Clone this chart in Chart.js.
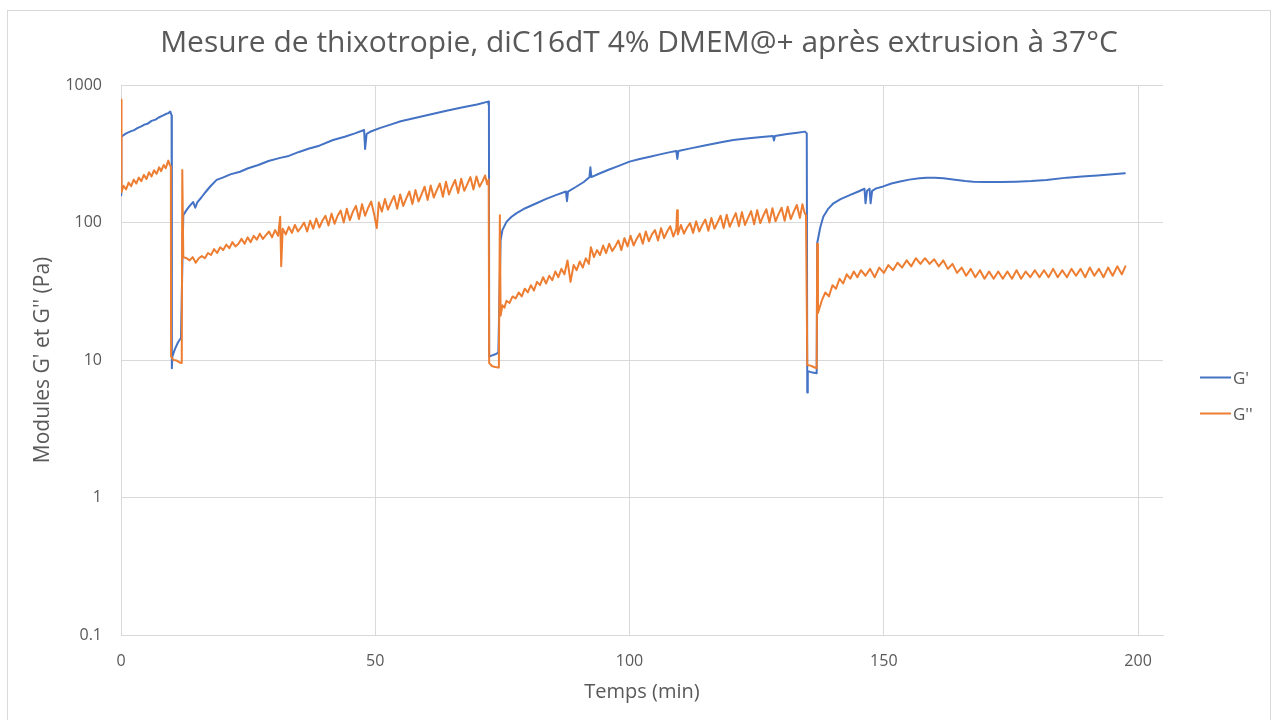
<!DOCTYPE html>
<html><head><meta charset="utf-8">
<script src="https://cdn.jsdelivr.net/npm/chart.js@4.4.1/dist/chart.umd.min.js"></script>
<style>html,body{margin:0;padding:0;background:#fff;}canvas{display:block;}</style>
</head><body>
<canvas id="c" width="1272" height="720"></canvas>
<script>
const chartTitle = "Mesure de thixotropie, diC16dT 4% DMEM@+ après extrusion à 37°C";
const xTitle = "Temps (min)";
const yTitle = "Modules G' et G'' (Pa)";
const seriesNames = ["G'", "G''"];
const xTicks = [0, 50, 100, 150, 200];
const yTicks = [0.1, 1, 10, 100, 1000];

// G' (storage modulus) : time (min) and value (Pa)
const gpT = [0,0.05,1.0,2.0,2.6,3.2,4.0,4.6,5.2,6.0,6.8,7.4,8.2,8.8,9.3,9.7,9.95,10.0,10.1,10.6,11.2,11.8,
12.25,12.8,13.5,14.2,14.6,15.0,15.8,16.6,17.5,18.8,20.0,21.5,23.4,25.0,27.0,29.0,31.3,33.0,35.0,37.0,39.0,41.7,44.0,46.0,47.8,48.0,48.3,49.0,51.0,53.0,55.0,58.0,61.0,64.0,67.0,70.0,72.2,72.35,
72.4,73.0,73.6,74.2,
74.65,75.0,75.8,76.8,77.8,79.5,81.7,83.5,85.5,87.5,87.7,87.9,89.5,91.0,92.1,92.3,92.5,94.2,96.0,97.5,100.0,102.0,104.0,106.0,108.0,109.2,109.4,109.6,112.0,115.0,118.0,120.4,123.0,126.0,128.2,128.4,128.6,131.0,133.0,134.5,134.85,
134.95,135.05,136.0,136.8,
136.9,137.5,138.1,139.0,140.1,141.5,143.3,145.0,146.2,146.4,146.7,147.2,147.4,147.7,148.5,149.9,151.5,153.2,155.0,157.0,158.4,160.0,161.7,164.0,166.0,167.6,170.0,173.0,176.0,179.0,182.0,186.0,189.0,192.0,195.0,197.4];
const gpV = [158,420,445,462,470,485,500,515,522,548,560,580,598,615,625,640,600,8.7,10.6,12.0,13.4,14.5,
113,122,132,141,128,140,152,166,182,204,212,224,234,248,262,280,295,305,326,345,362,398,420,445,471,343,442,457,488,515,545,578,612,650,685,722,757,700,
10.6,10.8,11.0,11.3,
74.6,88,101,110,117,127,138,148,158,168,143,168,182,197,213,252,214,228,243,255,277,290,301,313,325,331,290,331,346,365,383,398,408,418,426,395,426,440,450,458,445,
5.8,8.3,8.1,8.0,
70.6,92,110,125,138,148,158,168,176,138,170,176,138,170,177,183,192,199,205,210,212,212,210,205,200,198,197,197,198,200,204,212,216,220,224,228];

// G'' (loss modulus) : time (min) and value (Pa)
const gppT = [0,0.1,0.5,1.0,1.5,2.0,2.5,3.0,3.5,4.0,4.5,5.0,5.5,6.0,6.5,7.0,7.5,7.9,8.4,8.8,9.3,9.6,9.8,
9.85,10.3,10.95,11.5,11.95,12.05,
12.25,12.9,13.5,14.1,14.7,15.3,15.9,16.5,17.1,17.7,18.3,18.9,19.5,20.1,20.7,21.3,21.9,22.5,23.1,23.7,24.3,24.9,25.5,26.1,26.7,27.3,27.9,28.5,29.1,29.7,30.3,30.9,31.3,31.5,31.8,32.4,33.0,33.6,34.2,34.8,35.4,36.0,36.6,37.2,37.8,38.4,39.0,39.6,40.2,40.8,41.4,42.0,42.6,43.2,43.8,44.4,45.0,45.6,46.2,46.8,47.4,48.0,48.6,49.2,49.8,50.3,50.7,51.3,51.9,52.5,53.1,53.7,54.3,54.9,55.5,56.1,56.7,57.3,57.9,58.5,59.1,59.7,60.3,60.9,61.5,62.1,62.7,63.3,63.9,64.5,65.1,65.7,66.3,66.9,67.5,68.1,68.7,69.3,69.9,70.5,71.1,71.6,72.0,72.3,
72.4,73.0,73.6,74.3,74.5,
74.65,75.0,75.4,75.8,76.4,77.0,77.6,78.2,78.8,79.4,80.0,80.6,81.2,81.8,82.4,83.0,83.6,84.2,84.8,85.4,86.0,86.6,87.2,87.8,88.4,89.0,89.6,90.2,90.8,91.4,92.0,92.4,93.0,93.6,94.2,94.8,95.4,96.0,96.6,97.2,97.8,98.4,99.0,99.6,100.2,100.8,101.4,102.0,102.6,103.2,103.8,104.4,105.0,105.6,106.2,106.8,107.4,108.0,108.6,109.2,109.35,109.5,110.1,110.7,111.3,111.9,112.5,113.1,113.7,114.3,114.9,115.5,116.1,116.7,117.3,117.9,118.5,119.1,119.7,120.3,120.9,121.5,122.1,122.7,123.3,123.9,124.5,125.1,125.7,126.3,126.9,127.5,128.1,128.7,129.3,129.9,130.5,131.1,131.7,132.3,132.9,133.5,134.0,134.4,134.7,
134.95,135.6,136.2,136.8,136.9,
137.05,137.8,138.5,139.2,139.9,140.6,141.3,142.0,142.7,143.4,144.1,144.8,145.5,146.4,147.3,148.2,149.1,150.0,150.9,151.8,152.7,153.6,154.5,155.4,156.3,157.2,158.1,159.0,159.9,160.8,161.7,162.6,163.5,164.4,165.3,166.2,167.1,168.0,168.9,169.8,170.7,171.6,172.5,173.4,174.3,175.2,176.1,177.0,177.9,178.8,179.7,180.6,181.5,182.4,183.3,184.2,185.1,186.0,186.9,187.8,188.7,189.6,190.5,191.4,192.3,193.2,194.1,195.0,195.9,196.8,197.5];
const gppV = [780,167,185,174,195,184,205,192,212,200,222,207,232,216,240,226,252,236,262,248,282,262,255,
10.6,10.0,9.9,9.6,9.5,241,
56,55,53,56,51,55,57,55,60,58,64,60,66,63,69,65,72,67,70,76,70,78,72,80,75,83,76,81,86,78,88,80,110,48,90,82,93,84,96,86,92,100,86,103,90,107,92,103,112,95,116,98,112,122,100,126,104,120,132,106,136,112,128,142,114,91,140,120,148,124,140,156,126,160,132,150,168,136,172,142,160,182,146,186,152,172,192,154,198,160,182,204,164,208,170,190,214,174,216,182,200,220,190,205,
9.5,9.0,8.9,8.8,113,
21,25,24,27,26,29,28,31,29,33,31,35,32,37,35,40,36,41,38,44,40,46,42,53,37,49,45,52,47,55,50,66,56,63,58,68,60,70,62,67,74,63,77,67,80,68,76,83,70,86,73,82,88,74,91,77,86,94,79,90,123,82,96,83,92,99,84,102,86,96,105,87,108,90,100,112,91,114,93,105,117,94,119,96,108,121,97,123,99,112,125,100,127,102,115,128,103,130,106,120,134,108,136,118,113,
9.2,9.1,8.9,8.7,70,
22,27,31,29,35,33,39,36,42,39,44,40,45,41,46,40,47,43,49,45,51,47,53,48,55,50,55,50,54,48,53,46,50,43,47,41,46,40,45,39,44,39,44,39,44,39,45,39,44,40,45,40,45,40,46,40,45,40,46,41,46,40,47,41,46,40,47,41,48,42,48];

const gpData = gpT.map((t, i) => ({x: t, y: gpV[i]}));
const gppData = gppT.map((t, i) => ({x: t, y: gppV[i]}));

const FONT = "'Open Sans', 'Liberation Sans', sans-serif";
const TEXT = '#595959';
const GRID = '#d9d9d9';
const colors = ['#4472C4', '#ED7D31'];

const decor = {
  id: 'decor',
  afterDraw(chart) {
    const ctx = chart.ctx;
    ctx.save();
    // outer chart border
    ctx.strokeStyle = GRID; ctx.lineWidth = 1;
    ctx.strokeRect(7.5, 10.5, 1263, 720);
    // title
    ctx.fillStyle = TEXT;
    ctx.font = "26px " + FONT;
    const w = ctx.measureText(chartTitle).width;
    const size = 26 * 958 / w;
    ctx.font = size.toFixed(2) + "px " + FONT;
    ctx.textAlign = 'center'; ctx.textBaseline = 'alphabetic';
    ctx.fillText(chartTitle, 639, 52);
    // legend
    const ly = [377.5, 413.5];
    ctx.font = "17px " + FONT;
    ctx.textAlign = 'left';
    seriesNames.forEach((n, i) => {
      ctx.strokeStyle = colors[i]; ctx.lineWidth = 2;
      ctx.beginPath(); ctx.moveTo(1200, ly[i]); ctx.lineTo(1231, ly[i]); ctx.stroke();
      ctx.fillStyle = TEXT;
      ctx.fillText(n, 1233, ly[i] + 6.5);
    });
    ctx.restore();
  }
};

new Chart(document.getElementById('c'), {
  type: 'line',
  data: {
    datasets: [
      {label: seriesNames[0], data: gpData, borderColor: colors[0], backgroundColor: colors[0], borderWidth: 2, pointRadius: 0, tension: 0, fill: false, order: 1, borderJoinStyle: 'round', borderCapStyle: 'round'},
      {label: seriesNames[1], data: gppData, borderColor: colors[1], backgroundColor: colors[1], borderWidth: 2, pointRadius: 0, tension: 0, fill: false, order: 0, borderJoinStyle: 'round', borderCapStyle: 'round'}
    ]
  },
  options: {
    responsive: false,
    animation: false,
    layout: {padding: {top: 85, right: 109, left: 0, bottom: 0}},
    scales: {
      x: {
        type: 'linear', min: 0, max: 204.9,
        afterBuildTicks: s => { s.ticks = xTicks.map(v => ({value: v})); },
        afterFit: s => { s.height = 85; },
        grid: {color: GRID, lineWidth: 1, drawTicks: false},
        border: {color: GRID, width: 1},
        ticks: {color: TEXT, font: {family: FONT, size: 16}, padding: 17, maxRotation: 0, callback: v => String(v)},
        title: {display: true, text: xTitle, color: TEXT, font: {family: FONT, size: 20}, padding: {top: 0, bottom: 16}}
      },
      y: {
        type: 'logarithmic', min: 0.1, max: 1000,
        afterBuildTicks: s => { s.ticks = yTicks.map(v => ({value: v})); },
        afterFit: s => { s.width = 121; },
        grid: {color: GRID, lineWidth: 1, drawTicks: false},
        border: {color: GRID, width: 1},
        ticks: {color: TEXT, font: {family: FONT, size: 16}, padding: 19, callback: v => String(v)},
        title: {display: true, text: yTitle, color: TEXT, font: {family: FONT, size: 21}, padding: {top: 30, bottom: 0}}
      }
    },
    plugins: {legend: {display: false}, title: {display: false}, tooltip: {enabled: false}}
  },
  plugins: [decor]
});
</script>
</body></html>
